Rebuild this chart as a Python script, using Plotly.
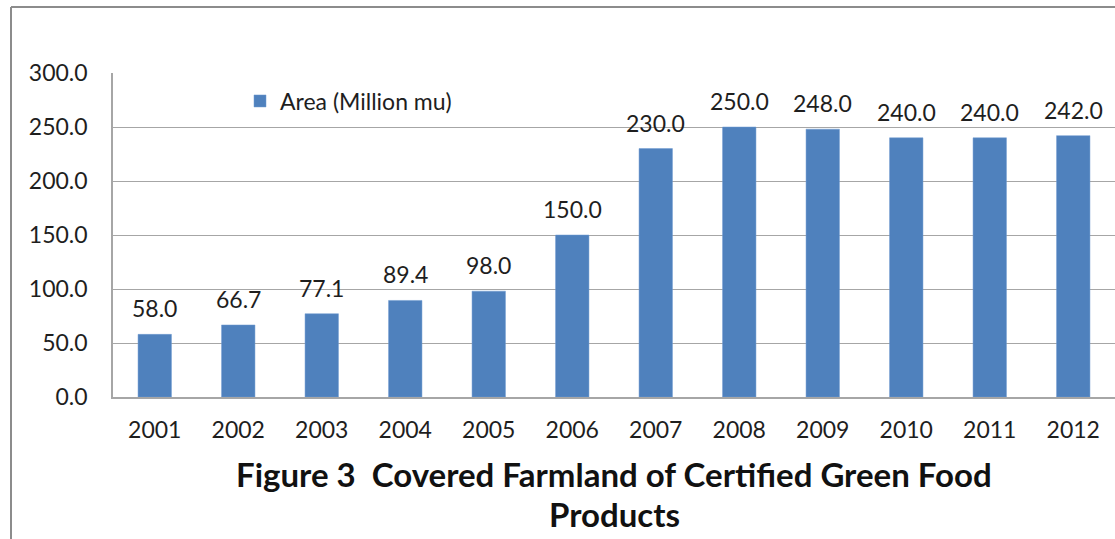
import plotly.graph_objects as go

years = ["2001", "2002", "2003", "2004", "2005", "2006",
         "2007", "2008", "2009", "2010", "2011", "2012"]
area = [58.0, 66.7, 77.1, 89.4, 98.0, 150.0, 230.0, 250.0, 248.0, 240.0, 240.0, 242.0]
series_name = "Area (Million mu)"
title_line1 = "Figure 3  Covered Farmland of Certified Green Food"
title_line2 = "Products"
y_ticks = [0, 50, 100, 150, 200, 250, 300]

W, H = 1115, 539
L, R, T, B = 113, 0, 73, 142
FONT = "Lato"
TXT = "#1e1e1e"
GRID = "#a6a6a6"

fig = go.Figure()
fig.add_trace(go.Bar(
    x=years, y=area, name=series_name,
    marker=dict(color="#4f81bd", line=dict(color="#6f9bd0", width=0.5)),
    width=0.4, showlegend=True,
))

annotations = []
for i, v in enumerate(area):
    annotations.append(dict(
        x=i, y=v, xref="x", yref="y", text=f"{v:.1f}", showarrow=False,
        xanchor="center", yanchor="bottom", yshift=10,
        font=dict(family=FONT, size=23, color=TXT),
    ))

pw = W - L - R
ph = H - T - B
cx = 0.5
annotations.append(dict(
    x=cx, y=-(488 - (T + ph)) / ph, xref="paper", yref="paper",
    text=f"<b>{title_line1}</b>", showarrow=False,
    xanchor="center", yanchor="bottom", yshift=-8,
    font=dict(family=FONT, size=33, color="#111111"),
))
annotations.append(dict(
    x=cx, y=-(528 - (T + ph)) / ph, xref="paper", yref="paper",
    text=f"<b>{title_line2}</b>", showarrow=False,
    xanchor="center", yanchor="bottom", yshift=-8,
    font=dict(family=FONT, size=33, color="#111111"),
))

shapes = [
    dict(type="line", xref="paper", yref="paper",
         x0=(11 - L) / pw, x1=(11 - L) / pw, y0=(H - 7 - B) / ph, y1=-B / ph,
         line=dict(color="#8c8c8c", width=2)),
    dict(type="line", xref="paper", yref="paper",
         x0=(11 - L) / pw, x1=1.0, y0=(H - 7 - B) / ph, y1=(H - 7 - B) / ph,
         line=dict(color="#8c8c8c", width=2)),
]

fig.update_layout(
    width=W, height=H,
    margin=dict(l=L, r=R, t=T, b=B, pad=0),
    paper_bgcolor="white", plot_bgcolor="white",
    font=dict(family=FONT, size=23, color=TXT),
    bargap=0.6,
    showlegend=True,
    legend=dict(x=(240 - L) / pw, y=(H - B - 101) / ph, xanchor="left", yanchor="middle",
                bgcolor="rgba(0,0,0,0)", font=dict(family=FONT, size=23, color=TXT),
                itemwidth=30),
    annotations=annotations,
    shapes=shapes,
)
fig.update_xaxes(
    type="category", range=[-0.5, 11.5],
    showline=True, linecolor=GRID, linewidth=1.5,
    showgrid=False, ticks="", ticklabelstandoff=12,
    tickfont=dict(family=FONT, size=23, color=TXT),
)
fig.update_yaxes(
    range=[0, 300], tickvals=y_ticks, ticktext=[f"{t:.1f}" for t in y_ticks],
    showline=True, linecolor=GRID, linewidth=1.5,
    showgrid=True, gridcolor=GRID, gridwidth=1.2,
    zeroline=False, ticks="", ticklabelstandoff=19,
    tickfont=dict(family=FONT, size=23, color=TXT),
)

fig.write_html("out.html")
